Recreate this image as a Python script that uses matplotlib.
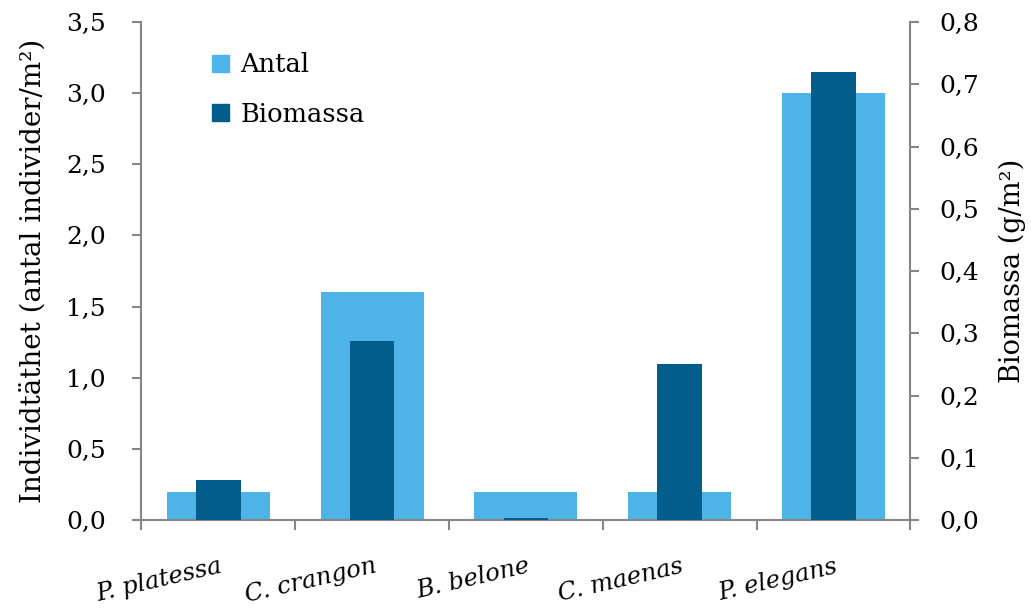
import matplotlib
matplotlib.use("Agg")
import matplotlib.pyplot as plt
from matplotlib.patches import Patch
from matplotlib.transforms import ScaledTranslation
import numpy as np

categories = ["P. platessa", "C. crangon", "B. belone", "C. maenas", "P. elegans"]
antal = [0.2, 1.6, 0.2, 0.2, 3.0]
biomassa = [0.065, 0.287, 0.004, 0.250, 0.72]
left_ticks = [0.0, 0.5, 1.0, 1.5, 2.0, 2.5, 3.0, 3.5]
right_ticks = [0.0, 0.1, 0.2, 0.3, 0.4, 0.5, 0.6, 0.7, 0.8]

light = "#4EB3E6"
dark = "#035D8A"
grey = "#868686"
font = "DejaVu Serif"
plt.rcParams['font.family'] = [font]

fig = plt.figure(figsize=(10.31, 6.08), dpi=100)
ax = fig.add_axes([0.1372, 0.1447, 0.7459, 0.8191])
ax2 = ax.twinx()

x = np.arange(1, len(categories) + 1)
ax.bar(x, antal, width=0.67, color=light, zorder=2)
ax2.bar(x, biomassa, width=0.29, color=dark, zorder=3)

ax.set_xlim(0.5, len(categories) + 0.5)
ax.set_ylim(0, 3.5)
ax2.set_ylim(0, 0.8)

ax.set_yticks(left_ticks)
ax.set_yticklabels([f"{v:.1f}".replace(".", ",") for v in left_ticks])
ax2.set_yticks(right_ticks)
ax2.set_yticklabels([f"{v:.1f}".replace(".", ",") for v in right_ticks])

ax.set_xticks(np.arange(0.5, len(categories) + 1, 1.0))
ax.set_xticklabels([])
ax.set_xticks(x, minor=True)
ax.set_xticklabels(categories, minor=True, rotation=13, ha="right",
                   rotation_mode="anchor", fontstyle="italic", fontsize=17.5)
ax.tick_params(axis="x", which="major", length=7.5, width=1.5, color=grey)
ax.tick_params(axis="x", which="minor", length=0, pad=25)
for lab in ax.get_xticklabels(minor=True):
    lab.set_transform(lab.get_transform() + ScaledTranslation(1 / 100, 0, fig.dpi_scale_trans))

for a in (ax, ax2):
    a.spines["top"].set_visible(False)
    for s in ("left", "right", "bottom"):
        a.spines[s].set_color(grey)
        a.spines[s].set_linewidth(1.5)
ax.spines["right"].set_visible(False)
ax2.spines["left"].set_visible(False)
ax2.spines["bottom"].set_visible(False)

ax.tick_params(axis="y", length=6.5, width=1.5, color=grey, labelsize=18, pad=19)
ax2.tick_params(axis="y", length=6.5, width=1.5, color=grey, labelsize=18, pad=14)

ax.set_ylabel("Individtäthet (antal individer/m²)", fontsize=20, labelpad=14)
ax2.set_ylabel("Biomassa (g/m²)", fontsize=19.5, labelpad=14)

handles = [Patch(color=light, label="Antal"), Patch(color=dark, label="Biomassa")]
ax2.legend(handles=handles, loc="upper left", bbox_to_anchor=(0.075, 0.965),
           frameon=False, fontsize=18.5, handlelength=0.65, handleheight=0.65,
           handletextpad=0.45, labelspacing=0.95, borderpad=0)

fig.savefig("out.png", dpi=100)
